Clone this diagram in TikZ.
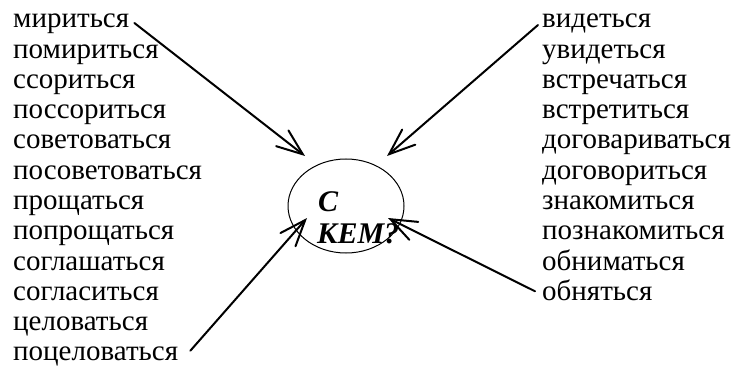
\documentclass[tikz,border=0pt]{standalone}
\usepackage{fontspec}
\setmainfont{Liberation Serif}
\usetikzlibrary{arrows.meta,calc,shapes.geometric}
\begin{document}
\begin{tikzpicture}[x=1pt,y=-1pt,
  word/.style={anchor=base west, inner sep=0pt, font=\fontsize{29}{30}\selectfont},
  qtext/.style={anchor=base west, inner sep=0pt, font=\fontsize{30}{31}\selectfont\bfseries\itshape},
  arr/.style={line width=2pt, line cap=round, -{Straight Barb[length=26pt,width=20pt,line cap=round]}},
  oval/.style={draw, ellipse, line width=1pt, minimum width=116pt, minimum height=94pt, inner sep=0pt}
]
\useasboundingbox (0,0) rectangle (738,366);
\foreach [count=\i] \w in {мириться,помириться,ссориться,поссориться,советоваться,посоветоваться,прощаться,попрощаться,соглашаться,согласиться,целоваться,поцеловаться}
  \node[word] (l\i) at (13,{28+(\i-1)*30.25}) {\w};
\foreach [count=\i] \w in {видеться,увидеться,встречаться,встретиться,договариваться,договориться,знакомиться,познакомиться,обниматься,обняться}
  \node[word] (r\i) at (542,{28+(\i-1)*30.25}) {\w};
\node[oval] (e) at (346,206) {};
\node[qtext] (q1) at (318,211) {С};
\node[qtext] (q2) at (317,243) {КЕМ?};
\coordinate (t1) at (305,156);
\coordinate (t2) at (387,156);
\coordinate (t3) at (307,218);
\coordinate (t4) at (388,218);
\draw[arr] ($(l1.base east)+(5,-5)$) -- (t1);
\draw[arr] ($(r1.base west)+(-4,-3)$) -- (t2);
\draw[arr] ($(l12.base east)+(12,-10)$) -- (t3);
\draw[arr] ($(r10.base west)+(-7,-9)$) -- (t4);
\end{tikzpicture}
\end{document}
